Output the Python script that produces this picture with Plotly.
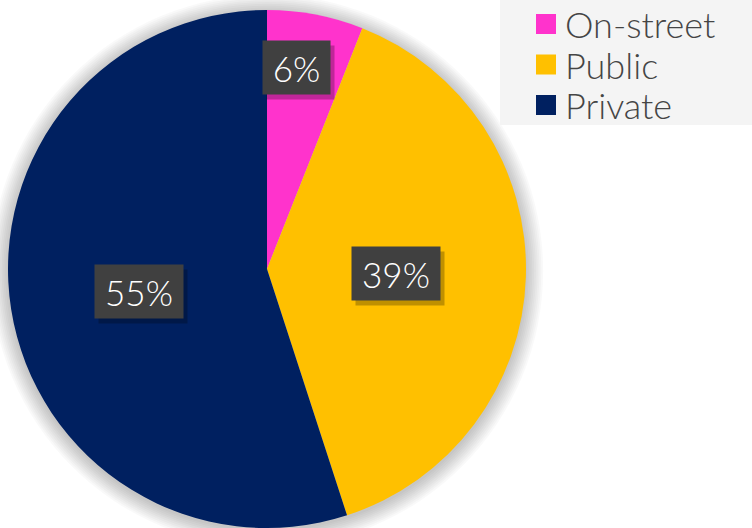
import math
import plotly.graph_objects as go

# ---- data ----
categories = ["On-street", "Public", "Private"]
shares = [6, 39, 55]
label_texts = ["6%", "39%", "55%"]

# ---- style ----
colors = ["#FF33CC", "#FFC000", "#002060"]
label_radius_frac = [0.785, 0.5, 0.5]
label_angle_nudge = [-2.5, 0, -0.8]   # degrees
W, H = 752, 528
CX, CY, R = 267, 269, 259          # pie centre / radius in px (from top-left)
FONT = "Lato"

fig = go.Figure()

fig.add_trace(go.Pie(
    labels=categories, values=shares, sort=False, direction="clockwise", rotation=0,
    marker=dict(colors=colors, line=dict(width=0)),
    textinfo="none", showlegend=False,
    domain=dict(x=[(CX - R) / W, (CX + R) / W], y=[(H - CY - R) / H, (H - CY + R) / H]),
))

shapes = []
# soft shadow behind the pie
for i in range(10):
    rr = R + 1 + i * 1.8
    dy = 2
    shapes.append(dict(type="circle", xref="paper", yref="paper", layer="below",
                       x0=(CX - rr) / W, x1=(CX + rr) / W,
                       y0=(H - CY - dy - rr) / H, y1=(H - CY - dy + rr) / H,
                       fillcolor="rgba(0,0,0,0.022)", line=dict(width=0)))

annotations = []
# data labels positioned from slice mid-angles
total = sum(shares)
cum = 0
for v, txt, f, nud in zip(shares, label_texts, label_radius_frac, label_angle_nudge):
    mid = (cum + v / 2) / total * 2 * math.pi + math.radians(nud)
    cum += v
    px = CX + f * R * math.sin(mid)
    py = CY - f * R * math.cos(mid)
    xp, yp = px / W, 1 - py / H
    bw = 65 if len(txt) == 2 else 86
    annotations.append(dict(x=xp, y=yp, xref="paper", yref="paper", text="", showarrow=False,
                            width=bw, height=51, bgcolor="rgba(0,0,0,0.25)",
                            xshift=4, yshift=-5, xanchor="center", yanchor="middle"))
    annotations.append(dict(x=xp, y=yp, xref="paper", yref="paper", text=txt, showarrow=False,
                            width=bw, height=51, bgcolor="#404040",
                            font=dict(family=FONT, size=35, color="white", weight=300),
                            xanchor="center", yanchor="middle"))

# legend (manual, for large square swatches)
shapes.append(dict(type="rect", xref="paper", yref="paper", layer="below",
                   x0=500 / W, x1=1, y0=1 - 125 / H, y1=1,
                   fillcolor="#f4f4f4", line=dict(width=0)))
for i, (cat, col) in enumerate(zip(categories, colors)):
    yc = 24 + i * 40.5
    shapes.append(dict(type="rect", xref="paper", yref="paper",
                       x0=536 / W, x1=556 / W, y0=1 - (yc + 10) / H, y1=1 - (yc - 10) / H,
                       fillcolor=col, line=dict(width=0)))
    annotations.append(dict(x=563 / W, y=1 - yc / H, xref="paper", yref="paper", text=cat,
                            showarrow=False, xanchor="left", yanchor="middle",
                            font=dict(family=FONT, size=36, color="#454545", weight=300)))

fig.update_layout(
    width=W, height=H, margin=dict(l=0, r=0, t=0, b=0),
    paper_bgcolor="white", plot_bgcolor="white",
    shapes=shapes, annotations=annotations,
)

fig.write_html("out.html")
